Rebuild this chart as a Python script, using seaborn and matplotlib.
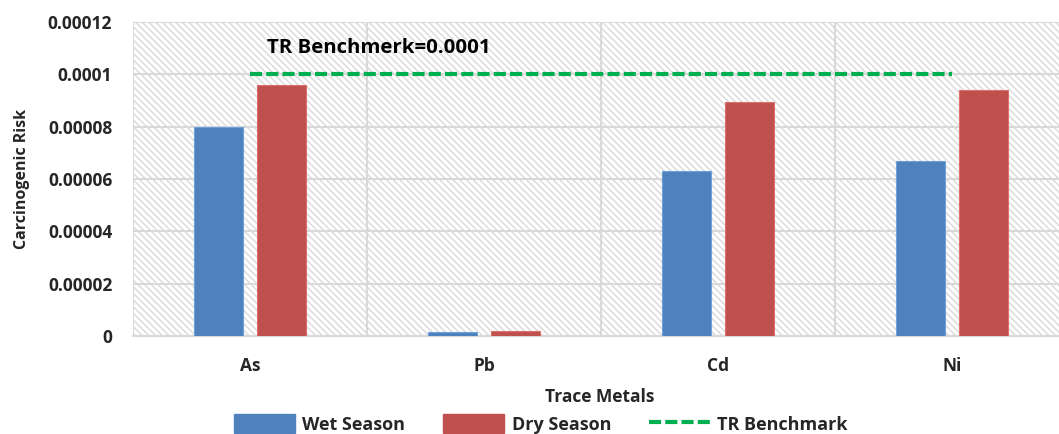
import numpy as np
import pandas as pd
import seaborn as sns
import matplotlib.pyplot as plt
from matplotlib.patches import Patch, Rectangle
from matplotlib.lines import Line2D

# Carcinogenic risk of trace metals by season
metals = ["As", "Pb", "Cd", "Ni"]
wet_season = [8.0e-5, 1.5e-6, 6.3e-5, 6.7e-5]
dry_season = [9.6e-5, 2.0e-6, 8.95e-5, 9.4e-5]
seasons = ["Wet Season", "Dry Season"]
tr_benchmark = 0.0001
y_ticks = [0, 0.00002, 0.00004, 0.00006, 0.00008, 0.0001, 0.00012]
y_tick_labels = ["0", "0.00002", "0.00004", "0.00006", "0.00008", "0.0001", "0.00012"]

df = pd.DataFrame({
    "Metal": metals * 2,
    "Season": [seasons[0]] * len(metals) + [seasons[1]] * len(metals),
    "Risk": wet_season + dry_season,
})

sns.set_theme(style="white")
plt.rcParams["font.family"] = ["Open Sans", "DejaVu Sans"]
plt.rcParams["font.weight"] = "bold"
plt.rcParams["hatch.linewidth"] = 1.0

BLUE = "#4f81bd"
RED = "#c0504d"
GREEN = "#00b050"
GRID = "#d9d9d9"

W, H = 1059, 434
fig = plt.figure(figsize=(W / 100, H / 100), dpi=100)
ax = fig.add_axes([133 / W, 1 - 336 / H, (1069 - 133) / W, (336 - 22) / H])

# hatched plot-area background
ax.add_patch(Rectangle((0, 0), 1, 1, transform=ax.transAxes, facecolor="white",
                       edgecolor=GRID, hatch="\\" * 5, linewidth=0, zorder=0))

sns.barplot(data=df, x="Metal", y="Risk", hue="Season", order=metals,
            hue_order=seasons, palette=[BLUE, RED], saturation=1,
            width=0.538, gap=0.223, ax=ax, legend=False, zorder=3, linewidth=0.8)
for p in ax.patches:
    if p.get_hatch() is None:
        fc = p.get_facecolor()
        p.set_edgecolor(tuple(min(1, c + 0.12) for c in fc[:3]))

# benchmark line across the metals
ax.hlines(tr_benchmark, 0, len(metals) - 1, colors=GREEN, linewidth=3,
          linestyles=(0, (2.9, 1.0)), zorder=4)
ax.text(0.073, 0.00011, "TR Benchmerk=0.0001", fontsize=14.7, fontweight="bold",
        ha="left", va="center", color="black", zorder=5)

ax.set_xlim(-0.5, len(metals) - 0.5)
ax.set_ylim(0, 0.00012)
ax.set_yticks(y_ticks)
ax.set_yticklabels(y_tick_labels, fontsize=12.5, fontweight="bold")
ax.set_xticks(range(len(metals)))
ax.set_xticklabels(metals, fontsize=12.5, fontweight="bold")
ax.set_xticks(np.arange(-0.5, len(metals), 1.0), minor=True)

ax.tick_params(axis="x", which="major", length=0, pad=15)
ax.tick_params(axis="x", which="minor", length=6, width=1.2, color=GRID, direction="out")
ax.tick_params(axis="y", length=0, pad=15)

ax.grid(False)
ax.yaxis.grid(True, color=GRID, linewidth=1.5, zorder=1)
ax.xaxis.grid(True, which="minor", color=GRID, linewidth=1.5, zorder=1)
ax.set_axisbelow(True)

for s in ["top", "right", "left"]:
    ax.spines[s].set_visible(False)
ax.spines["bottom"].set_color(GRID)
ax.spines["bottom"].set_linewidth(1.5)

ax.set_xlabel("")
ax.set_ylabel("")
fig.text(22 / W, 1 - 179 / H, "Carcinogenic Risk", rotation=90, ha="center",
         va="center", fontsize=11.5, fontweight="bold")
fig.text(600 / W, 1 - 397 / H, "Trace Metals", ha="center", va="center",
         fontsize=12.5, fontweight="bold")

handles = [Patch(facecolor=BLUE, edgecolor=BLUE), Patch(facecolor=RED, edgecolor=RED),
           Line2D([0], [0], color=GREEN, linewidth=3, linestyle=(0, (2.9, 1.0)))]
fig.legend(handles, seasons + ["TR Benchmark"], loc="center",
           bbox_to_anchor=(541 / W, 1 - 424 / H), ncol=3, frameon=False,
           prop={"size": 13, "weight": "bold"}, handlelength=3.38,
           handleheight=1.2, columnspacing=2.1, handletextpad=0.4,
           borderpad=0.1)

fig.savefig("out.png", dpi=100)
